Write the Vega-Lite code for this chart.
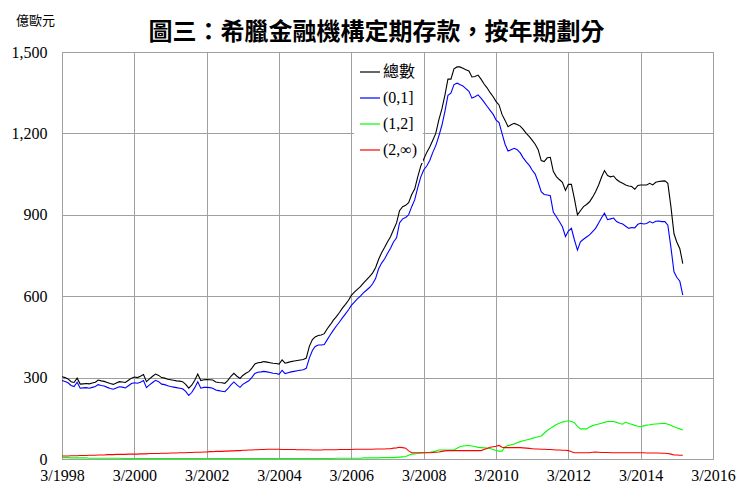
{
"$schema": "https://vega.github.io/schema/vega-lite/v6.json",
"width": 651, "height": 407,
"autosize": {"type": "none"},
"padding": {"left": 62, "top": 52, "right": 26, "bottom": 25},
"background": "white",
"title": {"text": "圖三：希臘金融機構定期存款，按年期劃分", "font": "Noto Sans CJK TC", "fontSize": 24, "fontWeight": "bold", "color": "black", "anchor": "middle", "offset": 8, "dx": -11, "dy": 39},
"config": {"view": {"stroke": "#a0a0a0"}},
"data": {"values": [
{"d":"1998-03","t":303,"a":289,"b":5,"c":11},
{"d":"1998-04","t":300,"a":286,"b":5,"c":11},
{"d":"1998-05","t":295,"a":281,"b":5,"c":11},
{"d":"1998-06","t":285,"a":271,"b":4,"c":12},
{"d":"1998-07","t":282,"a":267,"b":4,"c":12},
{"d":"1998-08","t":298,"a":283,"b":4,"c":12},
{"d":"1998-09","t":276,"a":261,"b":4,"c":13},
{"d":"1998-10","t":277,"a":262,"b":4,"c":13},
{"d":"1998-11","t":278,"a":263,"b":4,"c":13},
{"d":"1998-12","t":277,"a":261,"b":3,"c":14},
{"d":"1999-01","t":280,"a":264,"b":3,"c":14},
{"d":"1999-02","t":283,"a":267,"b":3,"c":14},
{"d":"1999-03","t":291,"a":274,"b":3,"c":15},
{"d":"1999-04","t":288,"a":271,"b":3,"c":15},
{"d":"1999-05","t":286,"a":269,"b":3,"c":15},
{"d":"1999-06","t":282,"a":264,"b":3,"c":16},
{"d":"1999-07","t":278,"a":260,"b":3,"c":16},
{"d":"1999-08","t":275,"a":257,"b":3,"c":16},
{"d":"1999-09","t":280,"a":262,"b":3,"c":17},
{"d":"1999-10","t":285,"a":266,"b":3,"c":17},
{"d":"1999-11","t":284,"a":265,"b":2,"c":17},
{"d":"1999-12","t":282,"a":262,"b":2,"c":17},
{"d":"2000-01","t":290,"a":270,"b":2,"c":18},
{"d":"2000-02","t":298,"a":278,"b":2,"c":18},
{"d":"2000-03","t":302,"a":281,"b":2,"c":18},
{"d":"2000-04","t":300,"a":279,"b":2,"c":18},
{"d":"2000-05","t":305,"a":283,"b":2,"c":19},
{"d":"2000-06","t":311,"a":289,"b":2,"c":19},
{"d":"2000-07","t":285,"a":263,"b":2,"c":19},
{"d":"2000-08","t":295,"a":273,"b":2,"c":20},
{"d":"2000-09","t":305,"a":282,"b":2,"c":20},
{"d":"2000-10","t":313,"a":290,"b":2,"c":20},
{"d":"2000-11","t":308,"a":285,"b":2,"c":20},
{"d":"2000-12","t":300,"a":276,"b":2,"c":21},
{"d":"2001-01","t":298,"a":274,"b":2,"c":21},
{"d":"2001-02","t":294,"a":270,"b":2,"c":21},
{"d":"2001-03","t":292,"a":267,"b":2,"c":22},
{"d":"2001-04","t":290,"a":265,"b":2,"c":22},
{"d":"2001-05","t":288,"a":263,"b":2,"c":22},
{"d":"2001-06","t":287,"a":261,"b":2,"c":23},
{"d":"2001-07","t":285,"a":259,"b":2,"c":23},
{"d":"2001-08","t":275,"a":249,"b":2,"c":23},
{"d":"2001-09","t":261,"a":234,"b":2,"c":24},
{"d":"2001-10","t":272,"a":245,"b":2,"c":24},
{"d":"2001-11","t":290,"a":263,"b":2,"c":25},
{"d":"2001-12","t":313,"a":285,"b":2,"c":25},
{"d":"2002-01","t":289,"a":261,"b":2,"c":25},
{"d":"2002-02","t":292,"a":264,"b":2,"c":26},
{"d":"2002-03","t":293,"a":264,"b":2,"c":26},
{"d":"2002-04","t":292,"a":263,"b":2,"c":27},
{"d":"2002-05","t":291,"a":261,"b":2,"c":27},
{"d":"2002-06","t":284,"a":254,"b":2,"c":28},
{"d":"2002-07","t":282,"a":252,"b":2,"c":28},
{"d":"2002-08","t":281,"a":250,"b":2,"c":28},
{"d":"2002-09","t":279,"a":248,"b":2,"c":29},
{"d":"2002-10","t":290,"a":259,"b":2,"c":29},
{"d":"2002-11","t":305,"a":273,"b":2,"c":30},
{"d":"2002-12","t":316,"a":284,"b":2,"c":30},
{"d":"2003-01","t":305,"a":273,"b":2,"c":31},
{"d":"2003-02","t":297,"a":264,"b":2,"c":31},
{"d":"2003-03","t":308,"a":275,"b":2,"c":32},
{"d":"2003-04","t":316,"a":282,"b":2,"c":32},
{"d":"2003-05","t":322,"a":288,"b":2,"c":33},
{"d":"2003-06","t":335,"a":301,"b":2,"c":33},
{"d":"2003-07","t":350,"a":315,"b":2,"c":34},
{"d":"2003-08","t":355,"a":320,"b":2,"c":34},
{"d":"2003-09","t":356,"a":321,"b":2,"c":35},
{"d":"2003-10","t":359,"a":323,"b":2,"c":35},
{"d":"2003-11","t":357,"a":321,"b":2,"c":36},
{"d":"2003-12","t":355,"a":319,"b":2,"c":36},
{"d":"2004-01","t":353,"a":316,"b":2,"c":36},
{"d":"2004-02","t":352,"a":315,"b":2,"c":36},
{"d":"2004-03","t":350,"a":312,"b":2,"c":36},
{"d":"2004-04","t":365,"a":327,"b":2,"c":35},
{"d":"2004-05","t":353,"a":315,"b":2,"c":35},
{"d":"2004-06","t":356,"a":318,"b":2,"c":35},
{"d":"2004-07","t":359,"a":321,"b":2,"c":35},
{"d":"2004-08","t":361,"a":323,"b":2,"c":35},
{"d":"2004-09","t":363,"a":325,"b":2,"c":34},
{"d":"2004-10","t":365,"a":327,"b":2,"c":34},
{"d":"2004-11","t":367,"a":329,"b":2,"c":34},
{"d":"2004-12","t":372,"a":334,"b":2,"c":34},
{"d":"2005-01","t":415,"a":372,"b":2,"c":34},
{"d":"2005-02","t":440,"a":400,"b":2,"c":33},
{"d":"2005-03","t":450,"a":415,"b":2,"c":33},
{"d":"2005-04","t":455,"a":420,"b":2,"c":33},
{"d":"2005-05","t":457,"a":420,"b":2,"c":33},
{"d":"2005-06","t":462,"a":422,"b":2,"c":34},
{"d":"2005-07","t":480,"a":440,"b":2,"c":34},
{"d":"2005-08","t":495,"a":458,"b":2,"c":34},
{"d":"2005-09","t":512,"a":475,"b":2,"c":34},
{"d":"2005-10","t":525,"a":490,"b":3,"c":34},
{"d":"2005-11","t":540,"a":505,"b":3,"c":35},
{"d":"2005-12","t":556,"a":520,"b":3,"c":35},
{"d":"2006-01","t":570,"a":535,"b":3,"c":35},
{"d":"2006-02","t":585,"a":550,"b":3,"c":35},
{"d":"2006-03","t":603,"a":566,"b":3,"c":35},
{"d":"2006-04","t":615,"a":578,"b":3,"c":36},
{"d":"2006-05","t":625,"a":590,"b":3,"c":36},
{"d":"2006-06","t":635,"a":600,"b":3,"c":36},
{"d":"2006-07","t":648,"a":612,"b":4,"c":36},
{"d":"2006-08","t":660,"a":622,"b":4,"c":36},
{"d":"2006-09","t":672,"a":632,"b":4,"c":36},
{"d":"2006-10","t":685,"a":645,"b":4,"c":36},
{"d":"2006-11","t":705,"a":665,"b":4,"c":37},
{"d":"2006-12","t":735,"a":700,"b":4,"c":37},
{"d":"2007-01","t":760,"a":722,"b":5,"c":37},
{"d":"2007-02","t":780,"a":738,"b":5,"c":37},
{"d":"2007-03","t":800,"a":757,"b":5,"c":38},
{"d":"2007-04","t":819,"a":777,"b":5,"c":38},
{"d":"2007-05","t":845,"a":800,"b":5,"c":40},
{"d":"2007-06","t":870,"a":815,"b":6,"c":41},
{"d":"2007-07","t":915,"a":870,"b":7,"c":43},
{"d":"2007-08","t":930,"a":885,"b":8,"c":42},
{"d":"2007-09","t":935,"a":890,"b":9,"c":40},
{"d":"2007-10","t":945,"a":900,"b":14,"c":30},
{"d":"2007-11","t":975,"a":930,"b":18,"c":23},
{"d":"2007-12","t":995,"a":955,"b":19,"c":23},
{"d":"2008-01","t":1040,"a":1000,"b":20,"c":23},
{"d":"2008-02","t":1080,"a":1040,"b":22,"c":23},
{"d":"2008-03","t":1105,"a":1065,"b":23,"c":23},
{"d":"2008-04","t":1130,"a":1080,"b":24,"c":23},
{"d":"2008-05","t":1150,"a":1100,"b":25,"c":23},
{"d":"2008-06","t":1175,"a":1130,"b":27,"c":24},
{"d":"2008-07","t":1200,"a":1155,"b":29,"c":25},
{"d":"2008-08","t":1250,"a":1190,"b":33,"c":26},
{"d":"2008-09","t":1290,"a":1230,"b":33,"c":28},
{"d":"2008-10","t":1340,"a":1280,"b":33,"c":30},
{"d":"2008-11","t":1400,"a":1340,"b":33,"c":31},
{"d":"2008-12","t":1400,"a":1348,"b":33,"c":31},
{"d":"2009-01","t":1438,"a":1380,"b":34,"c":31},
{"d":"2009-02","t":1445,"a":1385,"b":40,"c":31},
{"d":"2009-03","t":1445,"a":1380,"b":45,"c":31},
{"d":"2009-04","t":1440,"a":1375,"b":48,"c":31},
{"d":"2009-05","t":1435,"a":1365,"b":49,"c":31},
{"d":"2009-06","t":1430,"a":1355,"b":50,"c":31},
{"d":"2009-07","t":1408,"a":1330,"b":48,"c":31},
{"d":"2009-08","t":1410,"a":1335,"b":46,"c":31},
{"d":"2009-09","t":1415,"a":1342,"b":43,"c":31},
{"d":"2009-10","t":1400,"a":1330,"b":42,"c":31},
{"d":"2009-11","t":1382,"a":1315,"b":41,"c":35},
{"d":"2009-12","t":1368,"a":1300,"b":40,"c":39},
{"d":"2010-01","t":1350,"a":1285,"b":39,"c":43},
{"d":"2010-02","t":1335,"a":1270,"b":35,"c":45},
{"d":"2010-03","t":1318,"a":1250,"b":31,"c":47},
{"d":"2010-04","t":1305,"a":1240,"b":29,"c":50},
{"d":"2010-05","t":1270,"a":1200,"b":29,"c":43},
{"d":"2010-06","t":1248,"a":1160,"b":45,"c":42},
{"d":"2010-07","t":1225,"a":1135,"b":50,"c":42},
{"d":"2010-08","t":1232,"a":1140,"b":52,"c":42},
{"d":"2010-09","t":1237,"a":1145,"b":55,"c":42},
{"d":"2010-10","t":1233,"a":1140,"b":60,"c":42},
{"d":"2010-11","t":1227,"a":1128,"b":64,"c":42},
{"d":"2010-12","t":1215,"a":1110,"b":67,"c":41},
{"d":"2011-01","t":1200,"a":1095,"b":70,"c":40},
{"d":"2011-02","t":1188,"a":1082,"b":73,"c":39},
{"d":"2011-03","t":1175,"a":1065,"b":76,"c":38},
{"d":"2011-04","t":1160,"a":1050,"b":79,"c":37},
{"d":"2011-05","t":1140,"a":1020,"b":82,"c":37},
{"d":"2011-06","t":1100,"a":985,"b":85,"c":36},
{"d":"2011-07","t":1096,"a":975,"b":95,"c":36},
{"d":"2011-08","t":1110,"a":973,"b":105,"c":35},
{"d":"2011-09","t":1112,"a":970,"b":113,"c":35},
{"d":"2011-10","t":1060,"a":910,"b":120,"c":34},
{"d":"2011-11","t":1041,"a":893,"b":127,"c":33},
{"d":"2011-12","t":1030,"a":875,"b":132,"c":33},
{"d":"2012-01","t":1020,"a":856,"b":136,"c":32},
{"d":"2012-02","t":990,"a":820,"b":139,"c":32},
{"d":"2012-03","t":1012,"a":840,"b":141,"c":31},
{"d":"2012-04","t":1012,"a":850,"b":138,"c":27},
{"d":"2012-05","t":960,"a":808,"b":134,"c":23},
{"d":"2012-06","t":900,"a":770,"b":120,"c":23},
{"d":"2012-07","t":915,"a":800,"b":111,"c":23},
{"d":"2012-08","t":930,"a":810,"b":111,"c":23},
{"d":"2012-09","t":938,"a":818,"b":111,"c":23},
{"d":"2012-10","t":948,"a":826,"b":118,"c":23},
{"d":"2012-11","t":965,"a":838,"b":123,"c":25},
{"d":"2012-12","t":985,"a":850,"b":126,"c":26},
{"d":"2013-01","t":1010,"a":870,"b":129,"c":25},
{"d":"2013-02","t":1040,"a":890,"b":132,"c":24},
{"d":"2013-03","t":1063,"a":906,"b":135,"c":24},
{"d":"2013-04","t":1045,"a":882,"b":138,"c":24},
{"d":"2013-05","t":1040,"a":885,"b":138,"c":23},
{"d":"2013-06","t":1043,"a":888,"b":138,"c":23},
{"d":"2013-07","t":1030,"a":875,"b":135,"c":23},
{"d":"2013-08","t":1022,"a":870,"b":131,"c":23},
{"d":"2013-09","t":1016,"a":866,"b":128,"c":23},
{"d":"2013-10","t":1010,"a":858,"b":136,"c":23},
{"d":"2013-11","t":1006,"a":850,"b":131,"c":23},
{"d":"2013-12","t":1004,"a":853,"b":128,"c":23},
{"d":"2014-01","t":994,"a":852,"b":124,"c":23},
{"d":"2014-02","t":1008,"a":865,"b":121,"c":23},
{"d":"2014-03","t":1010,"a":869,"b":119,"c":23},
{"d":"2014-04","t":1010,"a":866,"b":122,"c":23},
{"d":"2014-05","t":1010,"a":868,"b":125,"c":22},
{"d":"2014-06","t":1016,"a":875,"b":126,"c":22},
{"d":"2014-07","t":1010,"a":870,"b":128,"c":22},
{"d":"2014-08","t":1020,"a":876,"b":129,"c":22},
{"d":"2014-09","t":1023,"a":877,"b":130,"c":22},
{"d":"2014-10","t":1024,"a":875,"b":131,"c":21},
{"d":"2014-11","t":1025,"a":875,"b":132,"c":21},
{"d":"2014-12","t":1016,"a":862,"b":128,"c":20},
{"d":"2015-01","t":930,"a":780,"b":124,"c":18},
{"d":"2015-02","t":830,"a":690,"b":119,"c":15},
{"d":"2015-03","t":800,"a":670,"b":115,"c":15},
{"d":"2015-04","t":775,"a":655,"b":111,"c":14},
{"d":"2015-05","t":720,"a":604,"b":107,"c":14}
]},
"transform": [{"fold": ["t", "a", "b", "c"], "as": ["s", "v"]}],
"mark": {"type": "line", "strokeWidth": 1.1},
"encoding": {
  "x": {"field": "d", "type": "temporal",
    "scale": {"type": "utc", "domain": [{"year": 1998, "month": 3, "date": 1, "utc": true}, {"year": 2016, "month": 3, "date": 1, "utc": true}]},
    "axis": {"values": [
      {"year": 1998, "month": 3, "date": 1, "utc": true},
      {"year": 2000, "month": 3, "date": 1, "utc": true},
      {"year": 2002, "month": 3, "date": 1, "utc": true},
      {"year": 2004, "month": 3, "date": 1, "utc": true},
      {"year": 2006, "month": 3, "date": 1, "utc": true},
      {"year": 2008, "month": 3, "date": 1, "utc": true},
      {"year": 2010, "month": 3, "date": 1, "utc": true},
      {"year": 2012, "month": 3, "date": 1, "utc": true},
      {"year": 2014, "month": 3, "date": 1, "utc": true},
      {"year": 2016, "month": 3, "date": 1, "utc": true}],
      "format": "%-m/%Y", "labelFont": "Liberation Serif", "labelFontSize": 16, "labelColor": "black",
      "labelPadding": 8, "ticks": false, "grid": true, "gridColor": "#a0a0a0", "domainColor": "#a0a0a0",
      "title": null, "labelFlush": false, "labelOverlap": false}},
  "y": {"field": "v", "type": "quantitative", "scale": {"domain": [0, 1500]},
    "axis": {"values": [0, 300, 600, 900, 1200, 1500], "format": ",d", "labelFont": "Liberation Serif", "labelFontSize": 16,
      "labelColor": "black", "labelPadding": 15, "ticks": false, "grid": true, "gridColor": "#a0a0a0", "domainColor": "#a0a0a0",
      "title": "億歐元", "titleAngle": 0, "titleX": -27, "titleY": -32, "titleAlign": "center", "titleBaseline": "middle",
      "titleFont": "Noto Sans CJK TC", "titleFontSize": 13, "titleFontWeight": "normal", "titleColor": "black"}},
  "color": {"field": "s", "type": "nominal",
    "scale": {"domain": ["t", "a", "b", "c"], "range": ["#000000", "#0000ff", "#00ff00", "#ff0000"]},
    "legend": {"title": null, "orient": "none", "legendX": 292, "legendY": 4, "fillColor": "white", "padding": 5,
      "symbolType": "stroke", "symbolSize": 400, "symbolStrokeWidth": 1.2, "labelOffset": 2,
      "labelFont": "Liberation Serif, Noto Sans CJK TC", "labelFontSize": 16, "labelColor": "black", "rowPadding": 7,
      "labelExpr": "datum.label == 't' ? '總數' : datum.label == 'a' ? '(0,1]' : datum.label == 'b' ? '(1,2]' : '(2,∞)'"}}
}
}
